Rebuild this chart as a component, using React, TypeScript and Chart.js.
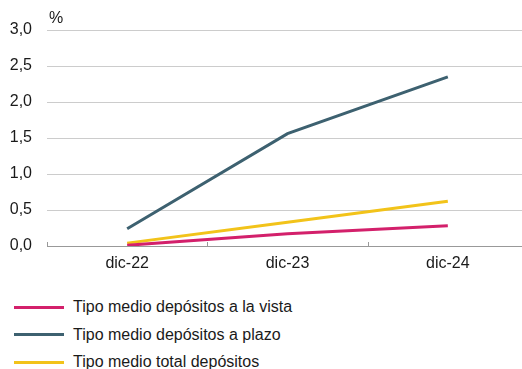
import React, { useEffect, useRef } from "react";
import { Chart, registerables } from "chart.js";

Chart.register(...registerables);

const categories = ["dic-22", "dic-23", "dic-24"];
const vista = [0.01, 0.17, 0.28];
const plazo = [0.24, 1.56, 2.35];
const total = [0.04, 0.33, 0.62];
const seriesNames = [
  "Tipo medio depósitos a la vista",
  "Tipo medio depósitos a plazo",
  "Tipo medio total depósitos",
];
const seriesColors = ["#D3206B", "#3D6170", "#F2C31A"];
const yTicks = [0, 0.5, 1, 1.5, 2, 2.5, 3];

const FONT = "'Liberation Sans', Arial, sans-serif";

const boundaryTicks = {
  id: "boundaryTicks",
  afterDatasetsDraw(chart: any) {
    const { ctx, chartArea } = chart;
    const n = categories.length;
    const w = (chartArea.right - chartArea.left) / n;
    ctx.save();
    ctx.strokeStyle = "#999999";
    ctx.lineWidth = 1;
    for (let i = 0; i <= n; i++) {
      const x = Math.round(chartArea.left + i * w) + 0.5;
      ctx.beginPath();
      ctx.moveTo(x, chartArea.bottom);
      ctx.lineTo(x, chartArea.bottom - 4);
      ctx.stroke();
    }
    ctx.restore();
  },
};

export default function App() {
  const ref = useRef<HTMLCanvasElement>(null);
  useEffect(() => {
    if (!ref.current) return;
    const data = [vista, plazo, total];
    const chart = new Chart(ref.current, {
      type: "line",
      data: {
        labels: categories,
        datasets: data.map((d, i) => ({
          label: seriesNames[i],
          data: d,
          borderColor: seriesColors[i],
          backgroundColor: seriesColors[i],
          borderWidth: 3,
          pointRadius: 0,
          tension: 0,
          order: i === 0 ? 2 : i === 1 ? 1 : 3,
        })),
      },
      options: {
        responsive: false,
        animation: false,
        layout: { padding: { top: 30, left: 0, right: 0, bottom: 0 } },
        plugins: { legend: { display: false }, tooltip: { enabled: false } },
        scales: {
          x: {
            offset: true,
            grid: { display: false, drawTicks: false },
            border: { display: true, color: "#999999", width: 1 },
            ticks: { color: "#1a1a1a", font: { family: FONT, size: 16 }, padding: 8 },
            afterFit: (s: any) => {
              s.height = 29;
            },
          },
          y: {
            min: 0,
            max: 3,
            afterBuildTicks: (s: any) => {
              s.ticks = yTicks.map((v) => ({ value: v }));
            },
            grid: {
              color: (c: any) => (c.tick && c.tick.value === 0 ? "rgba(0,0,0,0)" : "#CCCCCC"),
              drawTicks: false,
              lineWidth: 1,
            },
            border: { display: false },
            ticks: {
              color: "#1a1a1a",
              font: { family: FONT, size: 16 },
              padding: 15,
              callback: (v: any) => Number(v).toFixed(1).replace(".", ","),
            },
            afterFit: (s: any) => {
              s.width = 47;
            },
          },
        },
      },
      plugins: [boundaryTicks],
    });
    return () => chart.destroy();
  }, []);

  return (
    <div
      style={{
        position: "fixed",
        left: 0,
        top: 0,
        width: 522,
        height: 369,
        overflow: "hidden",
        background: "#fff",
        fontFamily: FONT,
      }}
    >
      <canvas
        ref={ref}
        width={528}
        height={275}
        style={{ position: "absolute", left: 0, top: 0, width: 528, height: 275 }}
      />
      <span style={{ position: "absolute", left: 49, top: 9, fontSize: 16, lineHeight: "18px", color: "#1a1a1a" }}>%</span>
      {seriesNames.map((n, i) => (
        <div
          key={n}
          style={{ position: "absolute", left: 14, top: 298 + i * 27.5, height: 18, display: "flex", alignItems: "center" }}
        >
          <div style={{ width: 50, height: 3, background: seriesColors[i] }} />
          <span style={{ marginLeft: 9, fontSize: 16, lineHeight: "18px", color: "#1a1a1a" }}>{n}</span>
        </div>
      ))}
    </div>
  );
}
